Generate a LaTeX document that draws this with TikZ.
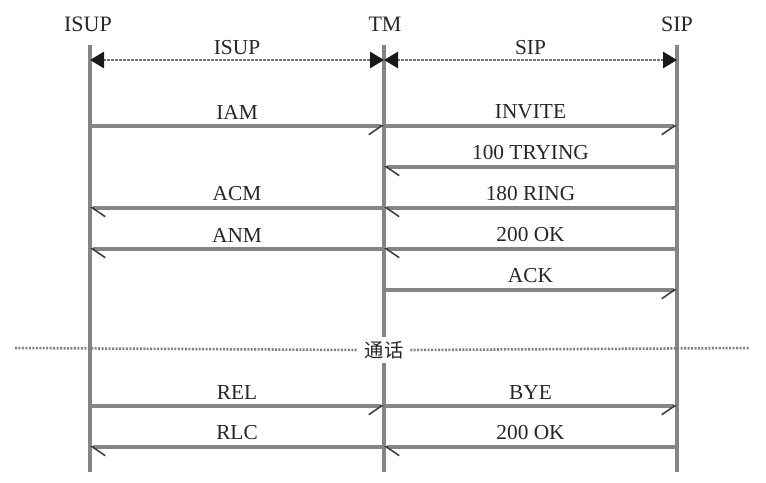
\documentclass[tikz,border=0pt]{standalone}
\usepackage{fontspec}
\setmainfont{Liberation Serif}
\newfontfamily\cjk{Noto Sans CJK SC}
\usetikzlibrary{arrows.meta}
\begin{document}
\begin{tikzpicture}[x=0.75pt,y=-0.75pt,
  lifeline/.style={draw=black!48,line width=2.3pt},
  msg/.style={draw=black!48,line width=2.3pt},
  rmsg/.style={msg,-{Straight Barb[harpoon,swap,length=9.5pt,width=13pt,line width=1.2pt,color=black!75]}},
  lmsg/.style={msg,-{Straight Barb[harpoon,length=9.5pt,width=13pt,line width=1.2pt,color=black!75]}},
  hdr/.style={draw=black!55,line width=2.2pt,dash pattern=on 1.8pt off 1.2pt,{Triangle[length=10.5pt,width=12pt,color=black!90]}-{Triangle[length=10.5pt,width=12pt,color=black!90]}},
  lbl/.style={font=\fontsize{16pt}{18pt}\selectfont,text=black!85,inner sep=1pt},
  ent/.style={font=\fontsize{16.5pt}{18pt}\selectfont,text=black!85,inner sep=1pt}
]
\useasboundingbox (0,0) rectangle (766,482);
% entities
\node[ent] (eI) at (88,24) {ISUP};
\node[ent] (eT) at (385,24) {TM};
\node[ent] (eS) at (677,24) {SIP};
\coordinate (tI) at (90,45); \coordinate (bI) at (90,472);
\coordinate (tT) at (384,45); \coordinate (bT) at (384,472);
\coordinate (tS) at (677,45); \coordinate (bS) at (677,472);
\draw[lifeline] (tI) -- (bI);
\draw[lifeline] (tT) -- (bT);
\draw[lifeline] (tS) -- (bS);
% header
\coordinate (hI) at (90,60); \coordinate (hT) at (384,60); \coordinate (hS) at (677,60);
\draw[hdr] (hI) -- (hT) node[lbl,midway,above=2pt] {ISUP};
\draw[hdr] (hT) -- (hS) node[lbl,midway,above=2pt] {SIP};
% messages
\foreach \n/\y in {a/126,b/167,c/208,d/249,e/290,f/406,g/447}{
  \coordinate (I\n) at (90,\y);
  \coordinate (T\n) at (384,\y);
  \coordinate (S\n) at (677,\y);
}
\draw[rmsg] (Ia) -- node[lbl,above=3pt] {IAM} (Ta);
\draw[rmsg] (Ta) -- node[lbl,above=3pt] {INVITE} (Sa);
\draw[lmsg] (Sb) -- node[lbl,above=3pt] {100 TRYING} (Tb);
\draw[lmsg] (Sc) -- node[lbl,above=3pt] {180 RING} (Tc);
\draw[lmsg] (Tc) -- node[lbl,above=3pt] {ACM} (Ic);
\draw[lmsg] (Sd) -- node[lbl,above=3pt] {200 OK} (Td);
\draw[lmsg] (Td) -- node[lbl,above=3pt] {ANM} (Id);
\draw[rmsg] (Te) -- node[lbl,above=3pt] {ACK} (Se);
% separator
\coordinate (sL) at (15,348); \coordinate (sR) at (750,348);
\node[font=\cjk\fontsize{14.5pt}{16pt}\selectfont,text=black!85,fill=white,inner xsep=5pt] (talk) at (384,350) {通话};
\draw[draw=black!50,line width=1.9pt,dash pattern=on 1.5pt off 1.1pt] (sL) -- (talk.west);
\draw[draw=black!50,line width=1.9pt,dash pattern=on 1.5pt off 1.1pt] (talk.east) -- (sR);
\draw[rmsg] (If) -- node[lbl,above=3pt] {REL} (Tf);
\draw[rmsg] (Tf) -- node[lbl,above=3pt] {BYE} (Sf);
\draw[lmsg] (Sg) -- node[lbl,above=3pt] {200 OK} (Tg);
\draw[lmsg] (Tg) -- node[lbl,above=3pt] {RLC} (Ig);
\end{tikzpicture}
\end{document}
